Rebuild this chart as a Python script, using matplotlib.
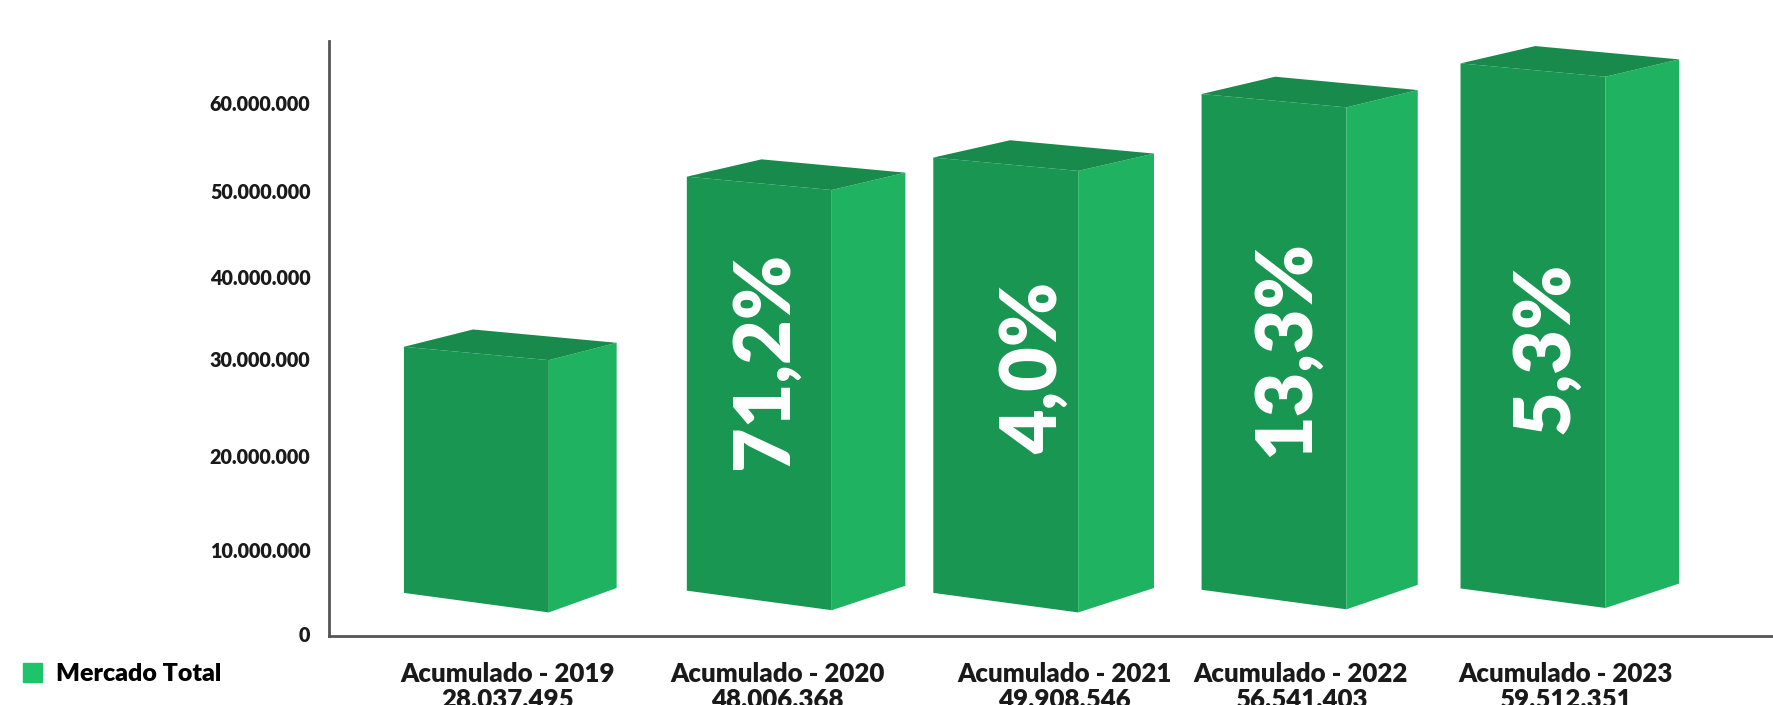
#Mercado total acumulado - barras 3D
import matplotlib
matplotlib.use('Agg')
import matplotlib.pyplot as plt
from matplotlib.patches import Patch

years = ['2019', '2020', '2021', '2022', '2023']
totals = ['28.037.495', '48.006.368', '49.908.546', '56.541.403', '59.512.351']
growth = ['', '71,2%', '4,0%', '13,3%', '5,3%']

#bar height and floating base, in millions
bar_heights = [27.7, 46.6, 49.0, 55.8, 59.1]
bar_bases = [4.85, 5.1, 4.85, 5.2, 5.35]

tick_labels = ['0', '10.000.000', '20.000.000', '30.000.000', '40.000.000', '50.000.000', '60.000.000']
#the labels are not evenly spaced in the picture
tick_values = [0.25, 9.7, 20.3, 31.2, 40.4, 50.06, 60.0]

#layout, x in category units
bar_left = [0.281, 1.345, 2.272, 3.281, 4.255]
side_width = [0.255, 0.277, 0.285, 0.268, 0.277]
back_offset = [0.26, 0.281, 0.289, 0.277, 0.281]
label_x = [0.672, 1.685, 2.766, 3.655, 4.651]
pct_x = [0, 1.639, 2.654, 3.601, 4.576]
pct_y = [0, 31.0, 30.2, 32.4, 32.4]
bar_width = 0.545

front_color = '#199652'
side_color = '#1FB260'
top_color = '#178A4C'
axis_color = '#555555'

plt.rcParams['font.family'] = ['Lato', 'DejaVu Sans']

fig = plt.figure(figsize=(17.74, 7.05), dpi=100)
ax = fig.add_axes([291 / 1568, 1 - 562 / 623, 1 - 291 / 1568, (562 - 36) / 623])
ax.set_xlim(0, 5.434)
ax.set_ylim(0, 67)

for i in range(len(years)):
    x0 = bar_left[i]
    x1 = x0 + bar_width
    x2 = x1 + side_width[i]
    low = bar_bases[i]
    high = low + bar_heights[i]

    #perspective: front edges fall to the right, side edges rise
    front_x = [x0, x1, x1, x0]
    front_y = [high, high - 1.5, low - 2.2, low]
    side_x = [x1, x2, x2, x1]
    side_y = [high - 1.5, high + 0.45, low + 0.55, low - 2.2]
    top_x = [x0, x0 + back_offset[i], x2, x1]
    top_y = [high, high + 1.95, high + 0.45, high - 1.5]

    ax.fill(front_x, front_y, color=front_color, lw=0)
    ax.fill(side_x, side_y, color=side_color, lw=0)
    ax.fill(top_x, top_y, color=top_color, lw=0)

    if growth[i]:
        ax.text(pct_x[i], pct_y[i], growth[i], rotation=90, color='white', fontsize=55.5,
                fontweight='heavy', ha='center', va='center')

for s in ['top', 'right']:
    ax.spines[s].set_visible(False)
for s in ['left', 'bottom']:
    ax.spines[s].set_color(axis_color)
    ax.spines[s].set_linewidth(2)

ax.set_yticks(tick_values)
ax.set_yticklabels(tick_labels, fontsize=14.2, fontweight='heavy', color='#1a1a1a')
ax.tick_params(axis='y', length=0, pad=13.5)

ax.set_xticks(label_x)
ax.set_xticklabels(['Acumulado - ' + y + '\n' + t for y, t in zip(years, totals)],
                   fontsize=18.6, fontweight='heavy', color='#1a1a1a', linespacing=1.08)
ax.tick_params(axis='x', length=0, pad=19)

handle = Patch(color='#1DC46A', label='Mercado Total')
fig.legend(handles=[handle], loc='center left', bbox_to_anchor=(0.0, 1 - 596 / 623), frameon=False,
           handlelength=0.76, handleheight=0.76, handletextpad=0.58,
           prop={'family': ['Lato', 'DejaVu Sans'], 'size': 18, 'weight': 'heavy'})

fig.savefig('out.png', dpi=100)
